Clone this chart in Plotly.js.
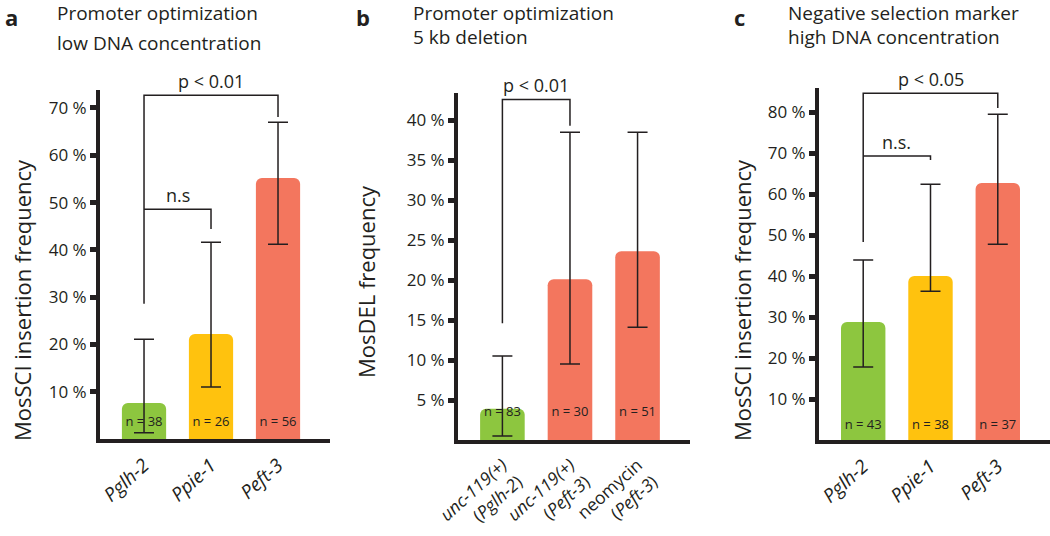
<!DOCTYPE html>
<html>
<head>
<meta charset="utf-8">
<script src="https://cdn.plot.ly/plotly-3.0.1.min.js"></script>
<style>
  body { margin: 0; background: #fff; }
  #graph { width: 1050px; height: 536px; }
</style>
</head>
<body>
<div id="graph"></div>
<script>
/* datos */

// panel a - low DNA concentration
const catsA = ['<i>Pglh-2</i>', '<i>Ppie-1</i>', '<i>Peft-3</i>'];
const freqA = [7.6, 22.2, 55.2];
const upA = [21.1, 41.6, 67.0];
const lowA = [1.3, 11.0, 41.2];
const nA = [38, 26, 56];

// panel b - 5 kb deletion
const catsB = ['<i>unc-119(+)</i><br>(<i>Pglh-2</i>)', '<i>unc-119(+)</i><br>(<i>Peft-3</i>)', 'neomycin<br>(<i>Peft-3</i>)'];
const freqB = [3.9, 20.1, 23.6];
const upB = [10.5, 38.5, 38.5];
const lowB = [0.5, 9.5, 14.1];
const nB = [83, 30, 51];

// panel c - high DNA concentration
const catsC = ['<i>Pglh-2</i>', '<i>Ppie-1</i>', '<i>Peft-3</i>'];
const freqC = [28.8, 40.0, 62.7];
const upC = [43.9, 62.4, 79.5];
const lowC = [17.8, 36.3, 47.8];
const nC = [43, 38, 37];

// lineas de significancia: [desde, hasta, pie izq, techo, pie der, texto]
const sigA = [[0, 2, 28.6, 72.7, 68.1, 'p < 0.01'], [0, 1, 48.6, 48.6, 44.4, 'n.s']];
const sigB = [[0, 1, 14.6, 42.6, 39.3, 'p < 0.01']];
const sigC = [[0, 2, 48.3, 84.6, 81.0, 'p < 0.05'], [0, 1, 69.3, 69.3, 68.3, 'n.s.']];

const VERDE = 'rgb(141,198,63)';
const AMARILLO = 'rgb(255,194,14)';
const ROJO = 'rgb(243,118,94)';
const coloresA = [VERDE, AMARILLO, ROJO];
const coloresB = [VERDE, ROJO, ROJO];
const coloresC = [VERDE, AMARILLO, ROJO];

const INK = '#231f20';
const FONT = '"Open Sans", "Liberation Sans", sans-serif';

// pixeles -> coordenadas paper
const W = 1050, H = 536;
const px = x => x / W;
const py = y => 1 - y / H;

const traces = [];
const annotations = [];

function panel(cats, freq, up, low, ns, colores, sig, xa, ya) {
    traces.push({
        type: 'bar',
        x: cats,
        y: freq,
        width: 0.66,
        xaxis: xa, yaxis: ya,
        marker: {color: colores, cornerradius: 6, line: {width: 0}},
        error_y: {
            type: 'data', symmetric: false,
            array: up.map((u, i) => u - freq[i]),
            arrayminus: low.map((l, i) => freq[i] - l),
            color: INK, thickness: 1.5, width: 10
        },
        hoverinfo: 'none'
    });
    // n = ..
    traces.push({
        type: 'scatter', mode: 'text',
        x: cats,
        y: cats.map(() => 3.4),
        text: ns.map(n => 'n = ' + n),
        textfont: {family: FONT, size: 13, color: INK},
        xaxis: xa, yaxis: ya,
        hoverinfo: 'none'
    });
    // corchetes
    for (let s of sig) {
        let [a, b, y0, top, y1, label] = s;
        traces.push({
            type: 'scatter', mode: 'lines',
            x: [cats[a], cats[a], cats[b], cats[b]],
            y: [y0, top, top, y1],
            line: {color: INK, width: 1.5},
            xaxis: xa, yaxis: ya,
            hoverinfo: 'none'
        });
        annotations.push({
            xref: xa, yref: ya,
            x: (a + b) / 2, y: top,
            yanchor: 'bottom', yshift: 0,
            text: label, showarrow: false,
            font: {family: FONT, size: 18, color: INK}
        });
    }
}

panel(catsA, freqA, upA, lowA, nA, coloresA, sigA, 'x', 'y');
panel(catsB, freqB, upB, lowB, nB, coloresB, sigB, 'x2', 'y2');
panel(catsC, freqC, upC, lowC, nC, coloresC, sigC, 'x3', 'y3');

// titulos de panel
const titulos = [
    [3, 'a', 55, 'Promoter optimization', 13, 'low DNA concentration', 43],
    [354, 'b', 411, 'Promoter optimization', 13, '5 kb deletion', 37],
    [732, 'c', 786, 'Negative selection marker', 13, 'high DNA concentration', 37]
];
for (let t of titulos) {
    let [lx, letra, tx, l1, y1, l2, y2] = t;
    annotations.push({xref: 'paper', yref: 'paper', x: px(lx), y: py(0), xanchor: 'left', yanchor: 'top',
        text: '<b>' + letra + '</b>', showarrow: false, font: {family: FONT, size: 22, color: INK}});
    annotations.push({xref: 'paper', yref: 'paper', x: px(tx), y: py(y1), xanchor: 'left', yanchor: 'middle',
        text: l1, showarrow: false, font: {family: FONT, size: 19, color: INK}});
    annotations.push({xref: 'paper', yref: 'paper', x: px(tx), y: py(y2), xanchor: 'left', yanchor: 'middle',
        text: l2, showarrow: false, font: {family: FONT, size: 19, color: INK}});
}

// titulos de eje y
const ejesY = [[22, 300, 'MosSCI insertion frequency'], [366, 282, 'MosDEL frequency'], [742, 300, 'MosSCI insertion frequency']];
for (let e of ejesY) {
    annotations.push({xref: 'paper', yref: 'paper', x: px(e[0]), y: py(e[1]), xanchor: 'center', yanchor: 'middle',
        text: e[2], textangle: -90, showarrow: false, font: {family: FONT, size: 22, color: INK}});
}

function xAxis(dom, anchor, size) {
    return {
        domain: dom, anchor: anchor, type: 'category',
        range: [-0.657, 2.776],
        showline: true, linewidth: 4, linecolor: INK,
        ticks: '', tickangle: -42, ticklabelstandoff: 4,
        tickfont: {family: FONT, size: size, color: INK},
        showgrid: false, zeroline: false, fixedrange: true
    };
}
function yAxis(dom, anchor, rng, vals) {
    return {
        domain: dom, anchor: anchor, range: rng,
        tickvals: vals, ticktext: vals.map(v => v + ' %'),
        showline: true, linewidth: 4, linecolor: INK,
        ticks: 'outside', ticklen: 6, tickwidth: 5, tickcolor: INK,
        tickfont: {family: FONT, size: 17, color: INK},
        showgrid: false, zeroline: false, fixedrange: true
    };
}

const layout = {
    width: W, height: H,
    margin: {l: 0, r: 0, t: 0, b: 0},
    paper_bgcolor: '#fff', plot_bgcolor: 'rgba(0,0,0,0)',
    showlegend: false,
    font: {family: FONT, color: INK},
    xaxis: xAxis([px(100), px(330)], 'y', 19),
    yaxis: yAxis([py(439), py(90)], 'x', [0, 73.8], [10, 20, 30, 40, 50, 60, 70]),
    xaxis2: xAxis([px(458), px(690)], 'y2', 17.5),
    yaxis2: yAxis([py(440), py(93)], 'x2', [0, 43.4], [5, 10, 15, 20, 25, 30, 35, 40]),
    xaxis3: xAxis([px(819), px(1050)], 'y3', 19),
    yaxis3: yAxis([py(440), py(88)], 'x3', [0, 85.9], [10, 20, 30, 40, 50, 60, 70, 80]),
    annotations: annotations
};

Plotly.newPlot('graph', traces, layout, {staticPlot: true});
</script>
</body>
</html>
